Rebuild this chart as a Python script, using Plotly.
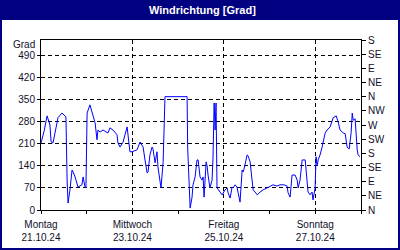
import plotly.graph_objects as go
import pandas as pd

# hours since 21.10.24 00:00
hours = [0.0, 1.6, 3.2, 4.7, 5.3, 6.3, 8.4, 8.9, 11.0, 12.6, 13.1, 13.7, 14.2, 15.2, 16.3, 16.8,
         17.9, 19.4, 21.5, 22.1, 23.1, 23.6, 24.2, 25.7, 27.3, 28.4, 29.4, 29.9, 31.0, 32.6, 34.1,
         35.2, 36.2, 37.8, 39.9, 40.4, 41.5, 43.1, 45.2, 45.7, 46.7, 47.8, 50.4, 52.0, 53.6, 54.6,
         55.7, 56.2, 57.2, 58.3, 58.8, 59.9, 60.9, 61.4, 62.5, 63.0, 64.1, 64.6, 65.1, 76.7, 77.0,
         78.3, 79.3, 79.8, 80.9, 81.9, 82.5, 83.5, 84.6, 85.1, 85.6, 86.7, 87.2, 87.7, 88.7, 89.8,
         90.3, 90.9, 91.4, 91.9, 92.4, 94.0, 95.1, 96.6, 97.7, 98.2, 99.3, 100.3, 100.8, 101.9,
         102.9, 103.5, 104.5, 105.6, 106.1, 106.6, 108.2, 108.7, 109.8, 110.8, 111.4, 112.4, 113.5,
         115.0, 116.6, 118.7, 120.3, 121.8, 123.9, 125.5, 127.6, 129.2, 129.7, 130.8, 131.8, 133.4,
         134.5, 135.0, 136.0, 137.1, 138.7, 139.7, 140.2, 141.3, 142.3, 142.8, 143.9, 144.4, 145.0,
         145.5, 146.5, 147.6, 148.1, 149.2, 150.2, 151.8, 153.4, 155.0, 156.0, 157.0, 158.6, 159.7,
         160.7, 161.8, 162.8, 163.4, 163.9, 164.9, 166.0, 166.5, 167.5]
direction = [213, 250, 299, 270, 216, 213, 277, 293, 308, 296, 296, 95, 22, 64, 127, 121,
             105, 73, 80, 105, 73, 70, 308, 334, 296, 277, 223, 254, 248, 254, 248,
             245, 261, 254, 239, 213, 200, 216, 264, 239, 185, 185, 191, 216, 200, 159,
             118, 121, 175, 200, 194, 150, 185, 137, 95, 70, 150, 293, 360, 360, 200,
             6, 41, 80, 105, 159, 159, 105, 95, 105, 41, 153, 140, 111, 70, 95,
             165, 340, 254, 340, 70, 57, 48, 64, 70, 55, 38, 73, 70, 80,
             73, 55, 25, 127, 121, 130, 175, 172, 153, 95, 64, 57, 48,
             57, 64, 70, 76, 80, 76, 80, 80, 76, 55, 41, 111, 111,
             95, 70, 95, 159, 159, 95, 57, 48, 57, 32, 70, 169, 140,
             159, 175, 200, 216, 245, 254, 264, 293, 299, 280, 254, 245, 242,
             200, 194, 245, 308, 285, 290, 191, 175, 169]

day_vals = ["2024-10-21", "2024-10-23", "2024-10-25", "2024-10-27"]
day_text = ["Montag<br>21.10.24", "Mittwoch<br>23.10.24", "Freitag<br>25.10.24", "Sonntag<br>27.10.24"]
left_ticks = [0, 70, 140, 210, 280, 350, 420, 490]
right_ticks = [0, 45, 90, 135, 180, 225, 270, 315, 360, 405, 450, 495, 540]
right_text = ["N", "NE", "E", "SE", "S", "SW", "W", "NW", "N", "NE", "E", "SE", "S"]

times = pd.Timestamp("2024-10-21") + pd.to_timedelta(hours, unit="h")

FONT = "Liberation Sans"
NAVY = "#000080"
TXT = "#10102a"

fig = go.Figure()
fig.add_trace(go.Scatter(x=times, y=direction, mode="lines",
                         line=dict(color="#0000FF", width=1), showlegend=False))
fig.add_trace(go.Scatter(x=[times[0]], y=[None], yaxis="y2", showlegend=False, hoverinfo="skip"))

fig.update_layout(
    width=400, height=250,
    margin=dict(l=41, r=39, t=40, b=40, autoexpand=False),
    paper_bgcolor=NAVY, plot_bgcolor="white",
    font=dict(family=FONT, size=10, color=TXT),
    xaxis=dict(type="date", range=["2024-10-21", "2024-10-28"],
               tickmode="array", tickvals=day_vals, ticktext=day_text,
               showgrid=True, gridcolor="black", griddash="4px,3px", gridwidth=1,
               showline=True, linecolor="black", linewidth=1, mirror=True,
               ticks="outside", ticklen=3, tickcolor="black",
               minor=dict(dtick=86400000, ticks="outside", ticklen=3, tickcolor="black", showgrid=False),
               zeroline=False, tickfont=dict(size=10), ticklabelstandoff=2, automargin=False),
    yaxis=dict(range=[0, 540], tickmode="array", tickvals=left_ticks,
               showgrid=True, gridcolor="black", griddash="4px,3px", gridwidth=1,
               showline=True, linecolor="black", linewidth=1, automargin=False,
               ticks="outside", ticklen=3, tickcolor="black", zeroline=False),
    yaxis2=dict(range=[0, 540], overlaying="y", side="right", tickmode="array",
                tickvals=right_ticks, ticktext=right_text, showgrid=False,
                showline=True, linecolor="black", linewidth=1, automargin=False,
                ticks="outside", ticklen=4, tickcolor="black", zeroline=False),
    shapes=[dict(type="rect", xref="paper", yref="paper", layer="below",
                 x0=(2 - 41) / 320, x1=(398 - 41) / 320,
                 y0=(210 - 248) / 170, y1=(210 - 20) / 170,
                 fillcolor="white", line=dict(width=0))],
    annotations=[
        dict(text="<b>Windrichtung [Grad]</b>", xref="paper", yref="paper",
             x=(202 - 41) / 320, y=(210 - 10) / 170, showarrow=False,
             font=dict(color="white", size=11, family=FONT), xanchor="center", yanchor="middle"),
        dict(text="Grad", xref="paper", yref="paper", x=(37 - 41) / 320, y=(210 - 44) / 170,
             showarrow=False, xanchor="right", yanchor="middle", font=dict(size=10, color=TXT)),
    ],
)

fig.write_html("out.html")
